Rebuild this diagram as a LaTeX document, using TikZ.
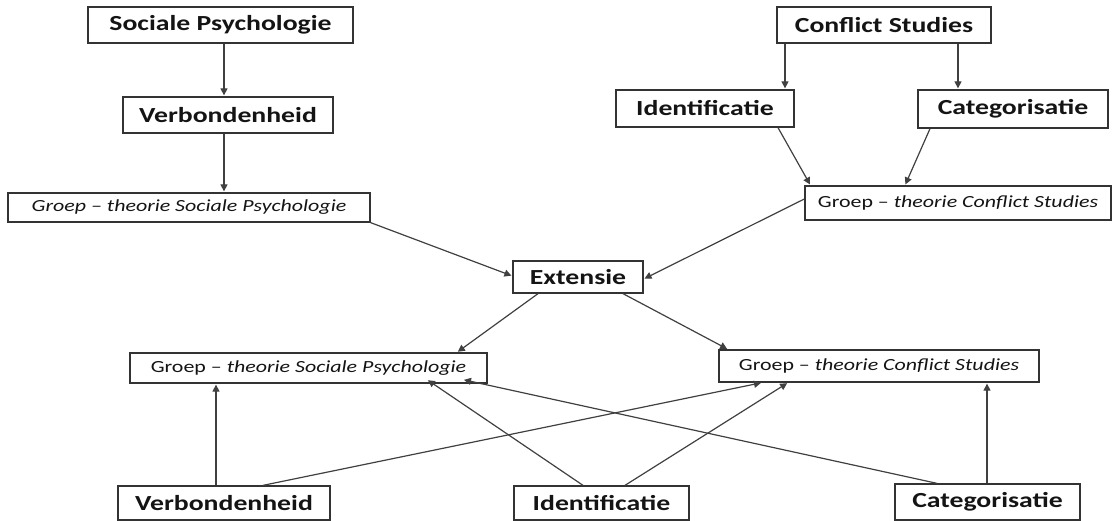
\documentclass[tikz,border=0pt]{standalone}
\usepackage{fontspec}
\setmainfont{Carlito}[FakeStretch=1.29]
\usetikzlibrary{arrows.meta}
\begin{document}
\begin{tikzpicture}[x=1pt,y=-1pt,
  box/.style={draw=black!80, line width=1.3pt, fill=white, inner sep=0pt, align=center, text=black!92},
  bigbox/.style={box, font=\fontsize{21.5}{24}\selectfont\bfseries},
  smallbox/.style={box, font=\fontsize{17}{20}\selectfont},
  arr/.style={draw=black!75, line width=1.2pt, -{Triangle[length=7pt,width=7pt]}, shorten >=1pt}]
\useasboundingbox (0,0) rectangle (1113,521);

% upper left branch
\node[bigbox, minimum width=265, minimum height=36] (sp) at (220.5,25) {Sociale Psychologie};
\node[bigbox, minimum width=210, minimum height=36] (vb1) at (228,115) {Verbondenheid};
\node[smallbox, minimum width=362, minimum height=29] (gsp1) at (189,207.5) {\itshape Groep -- theorie Sociale Psychologie};

% upper right branch
\node[bigbox, minimum width=214, minimum height=36] (cs) at (884,25) {Conflict Studies};
\node[bigbox, minimum width=178, minimum height=37] (id1) at (705,108.5) {Identificatie};
\node[bigbox, minimum width=190, minimum height=38] (ca1) at (1013,109) {Categorisatie};
\node[smallbox, minimum width=306, minimum height=34] (gcs1) at (958,203) {Groep -- \textit{theorie Conflict Studies}};

% centre
\node[bigbox, minimum width=130, minimum height=32] (ex) at (578,277) {Extensie};

% lower group boxes
\node[smallbox, minimum width=357, minimum height=30] (gsp2) at (308.5,368) {Groep -- \textit{theorie Sociale Psychologie}};
\node[smallbox, minimum width=320, minimum height=32] (gcs2) at (879,366) {Groep -- \textit{theorie Conflict Studies}};

% bottom row
\node[bigbox, minimum width=212, minimum height=34] (vb2) at (224,503) {Verbondenheid};
\node[bigbox, minimum width=175, minimum height=34] (id2) at (601.5,503) {Identificatie};
\node[bigbox, minimum width=185, minimum height=36] (ca2) at (987.5,502) {Categorisatie};

% upper connectors
\draw[arr] ([xshift=3.5]sp.south) -- ([xshift=-4]vb1.north);
\draw[arr] ([xshift=-4]vb1.south) -- ([xshift=35]gsp1.north);
\draw[arr] ([xshift=-99]cs.south) -- ([xshift=80]id1.north);
\draw[arr] ([xshift=74]cs.south) -- ([xshift=-55]ca1.north);
\draw[arr] ([xshift=73]id1.south) -- ([xshift=-147.5]gcs1.north);
\draw[arr] ([xshift=-83]ca1.south) -- ([xshift=-53]gcs1.north);

% into and out of Extensie
\draw[arr] (gsp1.south east) -- ([yshift=1]ex.west);
\draw[arr] ([yshift=4]gcs1.west) -- ([yshift=-2]ex.east);
\draw[arr] ([xshift=-40]ex.south) -- ([xshift=148.5]gsp2.north);
\draw[arr] ([xshift=45]ex.south) -- ([xshift=-151]gcs2.north);

% bottom row to group boxes
\draw[arr] ([xshift=-8]vb2.north) -- ([xshift=-92.5]gsp2.south);
\draw[arr] ([xshift=39]vb2.north) -- ([xshift=-117]gcs2.south);
\draw[arr] ([xshift=-18.5]id2.north) -- ([xshift=118.5,yshift=4]gsp2.south);
\draw[arr] ([xshift=23.5]id2.north) -- ([xshift=-91]gcs2.south);
\draw[arr] ([xshift=-50.5]ca2.north) -- ([xshift=154.5,yshift=4]gsp2.south);
\draw[arr] ([xshift=-0.5]ca2.north) -- ([xshift=108]gcs2.south);
\end{tikzpicture}
\end{document}
